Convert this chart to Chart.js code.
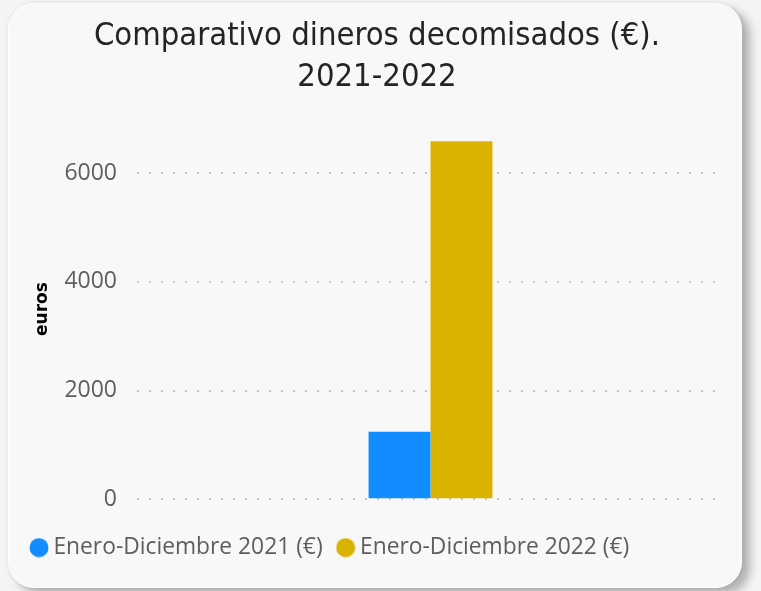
<!DOCTYPE html>
<html>
<head>
<meta charset="utf-8">
<script src="https://cdn.jsdelivr.net/npm/chart.js@4.4.0/dist/chart.umd.min.js"></script>
<style>
  html,body{margin:0;padding:0;background:#f4f4f4;width:761px;height:591px;overflow:hidden;}
  #card{position:absolute;left:8px;top:3px;width:732px;height:583px;background:#f8f8f8;border:1px solid #fff;border-radius:26px;
        box-shadow:8px 6px 10px rgba(0,0,0,0.28), 0 0 4px rgba(0,0,0,0.08);}
  #wrap{position:absolute;left:0;top:0;width:761px;height:591px;}
</style>
</head>
<body>
<div id="card"></div>
<div id="wrap"><canvas id="canvas" width="761" height="591"></canvas></div>
<script>
// datos
var categorias = [''];
var serie2021 = [1240];
var serie2022 = [6590];
var nombres = ['Enero-Diciembre 2021 (€)', 'Enero-Diciembre 2022 (€)'];
var colores = ['#118DFF', '#D9B300'];
var ticksY = [0, 2000, 4000, 6000];

// circulos de la leyenda
var dots = colores.map(function(c){
  var cv = document.createElement('canvas');
  cv.width = 20; cv.height = 20;
  var cx = cv.getContext('2d');
  cx.fillStyle = c;
  cx.beginPath();
  cx.arc(10, 10, 9.5, 0, Math.PI * 2);
  cx.fill();
  return cv;
});

// la leyenda va un poco mas a la izquierda que el titulo
var moverLeyenda = {
  id: 'moverLeyenda',
  afterLayout: function(chart){
    if (chart.legend) { chart.legend.left -= 14; chart.legend.right -= 14; }
  }
};

var ctx = document.getElementById('canvas').getContext('2d');
window.myBar = new Chart(ctx, {
  type: 'bar',
  data: {
    labels: categorias,
    datasets: [
      {label: nombres[0], data: serie2021, backgroundColor: colores[0]},
      {label: nombres[1], data: serie2022, backgroundColor: colores[1]}
    ]
  },
  plugins: [moverLeyenda],
  options: {
    responsive: false,
    animation: false,
    layout: {padding: {left: 30, right: 37, top: 0, bottom: 22}},
    datasets: {bar: {categoryPercentage: 0.211, barPercentage: 1.0}},
    scales: {
      x: {display: false},
      y: {
        min: 0,
        max: 7000,
        afterBuildTicks: function(axis){
          axis.ticks = ticksY.map(function(v){ return {value: v}; });
        },
        afterFit: function(axis){ axis.width = 107; },
        border: {display: false, dash: [2, 10]},
        grid: {color: '#c8c6c4', lineWidth: 2, drawTicks: false},
        ticks: {
          color: '#605e5c', padding: 20, font: {family: 'Open Sans', size: 23},
          callback: function(v){ return String(v); }
        },
        title: {display: true, text: 'euros', color: '#000', padding: {top: 2, bottom: 17},
                font: {family: 'DejaVu Sans', size: 17, weight: 'bold'}}
      }
    },
    plugins: {
      title: {
        display: true,
        text: ['Comparativo dineros decomisados (€).', '2021-2022'],
        color: '#252423',
        font: {family: 'DejaVu Sans Condensed', size: 32.5, weight: 'normal', lineHeight: 41 / 32.5},
        padding: {top: 16, bottom: 21}
      },
      legend: {
        position: 'bottom',
        align: 'start',
        title: {display: true, text: '', padding: 0, font: {size: 14, lineHeight: 17 / 14}},
        labels: {
          color: '#605e5c',
          font: {family: 'Open Sans', size: 22.8},
          usePointStyle: true,
          pointStyleWidth: 6,
          boxHeight: 14,
          padding: 20,
          generateLabels: function(chart){
            var items = Chart.defaults.plugins.legend.labels.generateLabels(chart);
            items.forEach(function(it, i){ it.pointStyle = dots[i]; });
            return items;
          }
        }
      },
      tooltip: {enabled: false}
    }
  }
});
</script>
</body>
</html>
